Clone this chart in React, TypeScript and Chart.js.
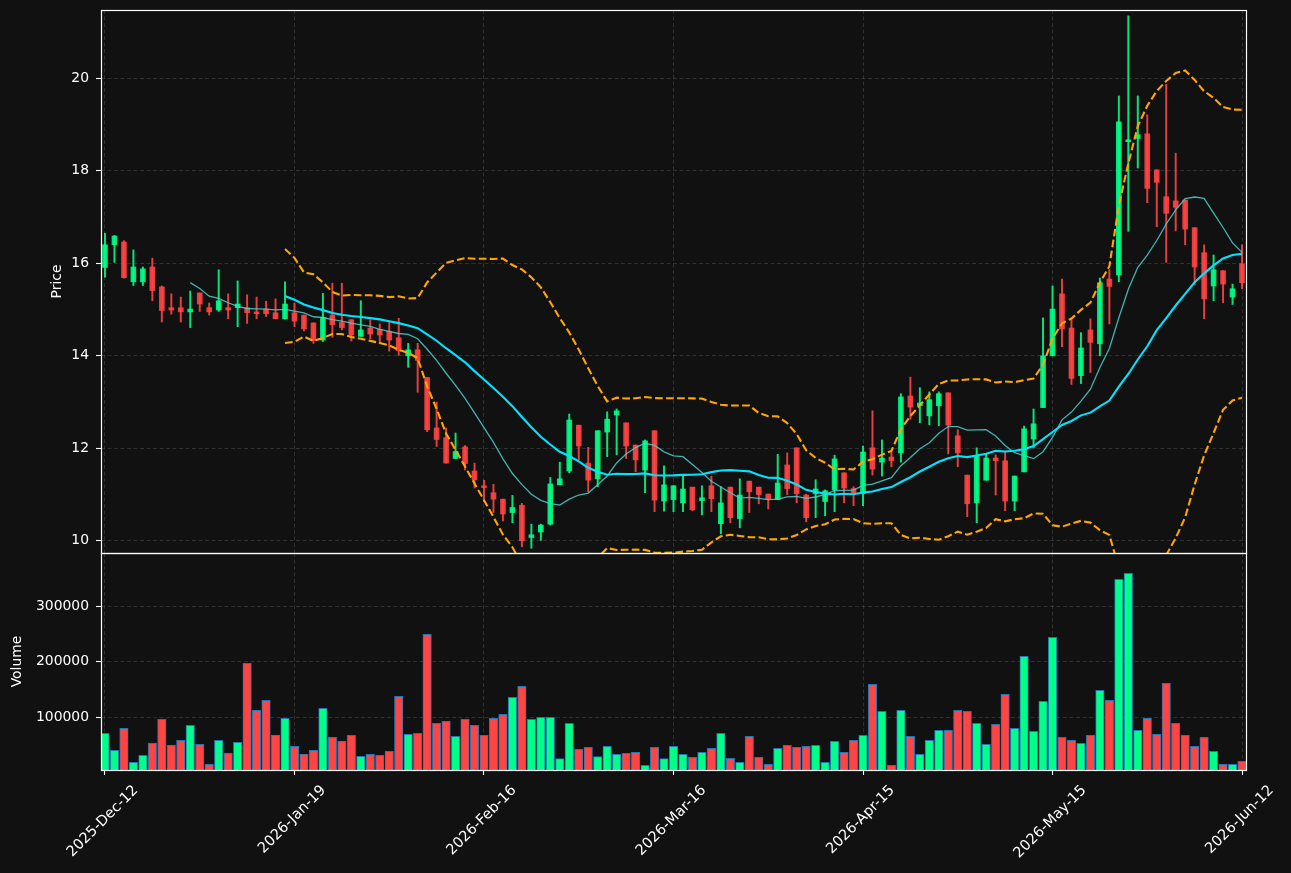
import React, { useEffect, useRef } from 'react';
import { Chart, registerables } from 'chart.js';

Chart.register(...registerables);

// ---------------- data ----------------
const opens = [
  15.91, 16.40, 16.46, 15.60, 15.60, 15.92, 15.49, 15.04, 15.04, 14.95,
  15.36, 15.04, 14.99, 15.04, 15.04, 15.04, 14.95, 15.01, 14.93, 14.80,
  14.93, 14.88, 14.71, 14.34, 14.88, 14.72, 14.78, 14.42, 14.60, 14.57,
  14.53, 14.39, 14.00, 14.13, 13.53, 12.44, 12.23, 11.78, 12.03, 11.51,
  11.19, 11.04, 10.90, 10.61, 10.77, 10.07, 10.19, 10.36, 11.21, 11.51,
  12.50, 11.68, 11.34, 12.35, 12.72, 12.55, 12.07, 11.53, 12.38, 10.86,
  10.89, 10.82, 11.16, 10.87, 11.19, 10.37, 11.16, 10.48, 11.29, 11.16,
  11.01, 10.89, 11.64, 12.01, 10.99, 11.02, 10.85, 11.10, 11.47, 11.13,
  11.02, 12.01, 11.70, 11.81, 11.90, 13.13, 12.92, 12.70, 12.92, 13.20,
  12.27, 11.42, 10.82, 11.31, 11.79, 11.73, 10.86, 11.49, 12.20, 12.88,
  14.00, 15.34, 14.60, 13.57, 14.56, 14.26, 15.66, 15.75, 18.63, 18.70,
  18.80, 18.02, 17.44, 17.35, 17.37, 16.77, 16.23, 15.51, 15.84, 15.27,
  15.99,
];
const highs = [
  16.65, 16.60, 16.49, 16.29, 15.92, 16.11, 15.51, 15.34, 15.27, 15.40,
  15.36, 15.14, 15.86, 15.34, 15.62, 15.32, 15.27, 15.18, 15.23, 15.60,
  15.14, 14.88, 14.71, 15.35, 15.57, 15.57, 14.78, 15.19, 14.78, 14.69,
  14.75, 14.81, 14.27, 14.27, 13.53, 13.00, 12.44, 12.33, 12.06, 11.68,
  11.31, 11.22, 10.90, 10.98, 10.81, 10.36, 10.36, 11.37, 11.70, 12.74,
  12.50, 12.02, 12.38, 12.79, 12.85, 12.55, 12.07, 12.18, 12.38, 11.62,
  11.19, 11.42, 11.16, 11.19, 11.40, 11.17, 11.16, 11.34, 11.29, 11.16,
  11.01, 11.87, 11.90, 12.01, 11.01, 11.32, 11.10, 11.85, 11.47, 11.17,
  12.05, 12.81, 12.18, 11.92, 13.18, 13.54, 13.31, 13.22, 13.22, 13.20,
  12.40, 11.42, 12.01, 11.88, 11.86, 11.92, 11.40, 12.48, 12.85, 14.82,
  15.51, 15.66, 14.78, 14.50, 14.80, 15.68, 15.86, 19.62, 21.35, 19.62,
  19.21, 18.02, 19.87, 18.38, 17.37, 16.77, 16.40, 16.18, 15.84, 15.55,
  16.40,
];
const lows = [
  15.70, 16.02, 15.68, 15.52, 15.52, 15.19, 14.73, 14.90, 14.73, 14.61,
  14.96, 14.88, 14.96, 14.80, 14.63, 14.70, 14.80, 14.85, 14.80, 14.80,
  14.63, 14.54, 14.27, 14.31, 14.40, 14.56, 14.32, 14.42, 14.37, 14.26,
  14.10, 14.01, 13.75, 13.21, 12.36, 12.04, 11.68, 11.78, 11.53, 11.14,
  10.85, 10.61, 10.43, 10.39, 9.87, 9.84, 10.01, 10.34, 11.21, 11.47,
  11.75, 11.06, 11.17, 11.82, 11.86, 11.78, 11.49, 11.04, 10.63, 10.64,
  10.63, 10.63, 10.65, 10.56, 10.63, 10.15, 10.39, 10.28, 10.61, 10.80,
  10.69, 10.89, 11.00, 10.82, 10.41, 10.50, 10.54, 10.63, 10.82, 10.76,
  10.76, 11.42, 11.40, 11.60, 11.70, 12.63, 12.55, 12.51, 12.49, 11.88,
  11.60, 10.52, 10.39, 11.31, 10.99, 10.65, 10.65, 11.49, 12.01, 12.88,
  14.00, 14.20, 13.38, 13.40, 13.64, 14.00, 14.69, 15.60, 16.69, 18.06,
  17.31, 16.79, 16.02, 16.70, 16.40, 15.53, 14.80, 15.19, 15.15, 15.11,
  15.45,
];
const closes = [
  16.40, 16.59, 15.69, 15.92, 15.88, 15.41, 14.98, 14.99, 14.95, 15.01,
  15.12, 14.95, 15.19, 14.99, 15.12, 14.93, 14.91, 14.91, 14.80, 15.12,
  14.75, 14.58, 14.33, 14.83, 14.67, 14.61, 14.45, 14.56, 14.47, 14.45,
  14.34, 14.11, 14.13, 13.90, 12.40, 12.19, 11.68, 11.93, 11.67, 11.32,
  11.15, 10.90, 10.58, 10.72, 10.00, 10.13, 10.34, 11.23, 11.34, 12.61,
  12.05, 11.31, 12.38, 12.63, 12.81, 12.05, 11.75, 12.16, 10.88, 11.21,
  11.19, 11.12, 10.67, 10.93, 10.91, 10.82, 10.50, 10.99, 11.06, 11.00,
  10.90, 11.25, 11.13, 11.02, 10.50, 11.12, 11.08, 11.77, 11.14, 11.04,
  11.92, 11.55, 11.79, 11.73, 13.11, 12.89, 12.98, 13.05, 13.18, 12.50,
  11.90, 10.80, 11.83, 11.79, 11.73, 10.86, 11.40, 12.42, 12.53, 14.00,
  15.01, 14.58, 13.51, 14.17, 14.29, 15.58, 15.50, 19.06, 18.67, 18.78,
  17.62, 17.75, 17.08, 17.21, 16.74, 15.92, 15.23, 15.86, 15.55, 15.45,
  15.58,
];
const volumes = [
  70500, 39800, 79600, 18200, 30800, 53000, 95800, 49400, 57900, 85000,
  50700, 14500, 57900, 35000, 54200, 197000, 112100, 130200, 67500, 97600,
  47000, 33200, 39800, 115700, 63300, 56600, 67000, 29000, 32600, 30800,
  38000, 137400, 68700, 70500, 249400, 88600, 92200, 65100, 95800, 85000,
  67000, 97600, 104900, 135600, 155500, 95800, 99500, 99500, 24700, 88600,
  41600, 45300, 28300, 47000, 32600, 34400, 36200, 12700, 45300, 24700,
  47000, 32600, 27200, 36200, 43400, 70500, 25300, 18200, 65100, 27200,
  14500, 43400, 48900, 45300, 47000, 48900, 18200, 56000, 36200, 57900,
  67000, 159000, 110300, 12700, 112100, 65100, 32600, 57900, 76000, 76000,
  112100, 110300, 88600, 50700, 86800, 141000, 79600, 209700, 74200, 128400,
  244000, 63300, 57900, 52500, 67000, 148200, 130200, 348700, 359600, 76000,
  97600, 68700, 160900, 88600, 67000, 47000, 63300, 38000, 14500, 14500,
  20000,
];
const tickIndex = [0, 20, 40, 60, 80, 100, 120];
const tickLabels = ['2025-Dec-12', '2026-Jan-19', '2026-Feb-16', '2026-Mar-16', '2026-Apr-15', '2026-May-15', '2026-Jun-12'];
const priceTicks = [10, 12, 14, 16, 18, 20];
const volumeTicks = [100000, 200000, 300000];
const shortWindow = 10;
const longWindow = 20;
const bandWidth = 2;

// ---------------- layout & style ----------------
const W = 1291;
const H = 873;
const BG = '#111111';
const FONT = "'DejaVu Sans', 'Liberation Sans', sans-serif";
const FS = 13.9;
const XFS = 14.5;
const AXIS_W = 101;
const RIGHT_PAD = 45;
const PRICE_CANVAS_H = 560;
const VOL_CANVAS_TOP = 546;
const VOL_CANVAS_H = H - VOL_CANVAS_TOP;
const X_MIN = -0.42;
const X_MAX = 120.42;
const P_MIN = 9.736;
const P_MAX = 21.477;
const V_MIN = 4245;
const V_MAX = 396300;

const UP_CANDLE = 'rgba(0,255,136,0.9)';
const DOWN_CANDLE = 'rgba(255,68,68,0.9)';
const UP_VOL = '#00ff88';
const DOWN_VOL = '#ff4444';
const GRID = 'rgba(128,128,128,0.35)';

const idx = closes.map((_, i) => i);
const isUp = idx.map((i) => closes[i] >= opens[i]);

function rollingMean(vals: number[], n: number) {
  const out: { x: number; y: number }[] = [];
  for (let i = n - 1; i < vals.length; i++) {
    let s = 0;
    for (let k = i - n + 1; k <= i; k++) s += vals[k];
    out.push({ x: i, y: s / n });
  }
  return out;
}
function rollingBand(vals: number[], n: number, mult: number, sign: number) {
  const out: { x: number; y: number }[] = [];
  for (let i = n - 1; i < vals.length; i++) {
    let s = 0;
    for (let k = i - n + 1; k <= i; k++) s += vals[k];
    const m = s / n;
    let v = 0;
    for (let k = i - n + 1; k <= i; k++) v += (vals[k] - m) * (vals[k] - m);
    out.push({ x: i, y: m + sign * mult * Math.sqrt(v / n) });
  }
  return out;
}

const framePlugin = {
  id: 'frame',
  afterDatasetsDraw(chart: any) {
    const { ctx, chartArea: a } = chart;
    ctx.save();
    ctx.strokeStyle = '#ffffff';
    ctx.lineWidth = 1.2;
    const l = Math.round(a.left) + 0.5;
    const r = Math.round(a.right) + 0.5;
    const t = Math.round(a.top) + 0.5;
    const b = Math.round(a.bottom) + 0.5;
    ctx.strokeRect(l, t, r - l, b - t);
    ctx.restore();
  },
};

const xLabelPlugin = {
  id: 'xLabels',
  afterDraw(chart: any) {
    const { ctx, chartArea } = chart;
    const xs = chart.scales.x;
    ctx.save();
    ctx.font = `${XFS}px ${FONT}`;
    ctx.fillStyle = '#ffffff';
    ctx.textAlign = 'center';
    ctx.textBaseline = 'middle';
    const top = chartArea.bottom + 5 + 4.9;
    tickIndex.forEach((v, k) => {
      const label = tickLabels[k];
      const px = xs.getPixelForValue(v);
      const L = ctx.measureText(label).width;
      const hh = XFS * 1.164;
      const half = (L + hh) / (2 * Math.SQRT2);
      ctx.save();
      ctx.translate(px - 2.3, top + half + 2.3);
      ctx.rotate(-Math.PI / 4);
      ctx.fillText(label, 0, 0);
      ctx.restore();
    });
    ctx.restore();
  },
};

function yAxis(min: number, max: number, ticks: number[], title: string, titlePad: number) {
  return {
    type: 'linear' as const,
    position: 'left' as const,
    min,
    max,
    afterBuildTicks: (s: any) => {
      s.ticks = ticks.map((v) => ({ value: v }));
    },
    afterFit: (s: any) => {
      s.width = AXIS_W;
      s.paddingTop = 0;
      s.paddingBottom = 0;
      s.paddingLeft = 0;
      s.paddingRight = 0;
    },
    ticks: {
      color: '#ffffff',
      font: { family: FONT, size: FS },
      padding: 7,
      autoSkip: false,
      callback: (v: any) => String(v),
    },
    grid: {
      color: GRID,
      lineWidth: 0.8,
      drawTicks: true,
      tickLength: 5,
      tickColor: '#ffffff',
      tickWidth: 1.1,
      tickBorderDash: [],
    },
    border: { display: false, dash: [4, 2.5] },
    title: {
      display: true,
      text: title,
      color: '#ffffff',
      font: { family: FONT, size: FS },
      padding: { top: titlePad, bottom: 0 },
    },
  };
}

function xAxis(height: number, drawTicks: boolean) {
  return {
    type: 'linear' as const,
    position: 'bottom' as const,
    min: X_MIN,
    max: X_MAX,
    offset: false,
    afterBuildTicks: (s: any) => {
      s.ticks = tickIndex.map((v) => ({ value: v }));
    },
    afterFit: (s: any) => {
      s.height = height;
      s.paddingTop = 0;
      s.paddingBottom = 0;
      s.paddingLeft = 0;
      s.paddingRight = 0;
    },
    ticks: { display: false, autoSkip: false },
    grid: {
      color: GRID,
      lineWidth: 0.8,
      offset: false,
      drawTicks,
      tickLength: 5,
      tickColor: '#ffffff',
      tickWidth: 1.1,
      tickBorderDash: [],
    },
    border: { display: false, dash: [4, 2.5] },
  };
}

export default function App() {
  const priceRef = useRef<HTMLCanvasElement>(null);
  const volRef = useRef<HTMLCanvasElement>(null);

  useEffect(() => {
    document.body.style.margin = '0';
    document.body.style.background = BG;
    Chart.defaults.font.family = FONT;
    Chart.defaults.font.size = FS;
    Chart.defaults.color = '#ffffff';

    const candleColors = idx.map((i) => (isUp[i] ? UP_CANDLE : DOWN_CANDLE));
    const volColors = idx.map((i) => (isUp[i] ? UP_VOL : DOWN_VOL));

    const priceChart = new Chart(priceRef.current as HTMLCanvasElement, {
      type: 'bar',
      data: {
        datasets: [
          {
            type: 'line',
            label: 'MA20',
            data: rollingMean(closes, longWindow),
            borderColor: '#00e5ff',
            borderWidth: 2.1,
            pointRadius: 0,
            tension: 0,
            clip: 0,
          },
          {
            type: 'line',
            label: 'MA10',
            data: rollingMean(closes, shortWindow),
            borderColor: 'rgba(72,209,204,0.85)',
            borderWidth: 1.3,
            pointRadius: 0,
            tension: 0,
            clip: 0,
          },
          {
            type: 'line',
            label: 'Upper',
            data: rollingBand(closes, longWindow, bandWidth, 1),
            borderColor: '#ffa500',
            borderWidth: 2.1,
            borderDash: [7.7, 3.3],
            pointRadius: 0,
            tension: 0,
            clip: 0,
          },
          {
            type: 'line',
            label: 'Lower',
            data: rollingBand(closes, longWindow, bandWidth, -1),
            borderColor: '#ffa500',
            borderWidth: 2.1,
            borderDash: [7.7, 3.3],
            pointRadius: 0,
            tension: 0,
            clip: 0,
          },
          {
            type: 'bar',
            label: 'Body',
            data: idx.map((i) => ({ x: i, y: [Math.min(opens[i], closes[i]), Math.max(opens[i], closes[i])] })),
            backgroundColor: candleColors,
            borderWidth: 0,
            barThickness: 5,
            grouped: false,
            minBarLength: 1,
            clip: 0,
          },
          {
            type: 'bar',
            label: 'Wick',
            data: idx.map((i) => ({ x: i, y: [lows[i], highs[i]] })),
            backgroundColor: candleColors,
            borderWidth: 0,
            barThickness: 1.3,
            grouped: false,
            clip: 0,
          },
        ] as any,
      },
      options: {
        animation: false,
        responsive: false,
        devicePixelRatio: 1,
        events: [],
        layout: { autoPadding: false, padding: { left: 0, right: RIGHT_PAD, top: 10, bottom: PRICE_CANVAS_H - 553 } },
        plugins: { legend: { display: false }, tooltip: { enabled: false } },
        scales: {
          x: xAxis(0, false),
          y: yAxis(P_MIN, P_MAX, priceTicks, 'Price', 49.2),
        } as any,
      },
      plugins: [framePlugin],
    });

    const volChart = new Chart(volRef.current as HTMLCanvasElement, {
      type: 'bar',
      data: {
        datasets: [
          {
            type: 'bar',
            label: 'Volume',
            data: idx.map((i) => ({ x: i, y: volumes[i] })),
            backgroundColor: volColors,
            borderColor: '#1f77b4',
            borderWidth: 1,
            barThickness: 8.5,
            grouped: false,
            clip: 0,
          },
        ] as any,
      },
      options: {
        animation: false,
        responsive: false,
        devicePixelRatio: 1,
        events: [],
        layout: { autoPadding: false, padding: { left: 0, right: RIGHT_PAD, top: 553 - VOL_CANVAS_TOP, bottom: 0 } },
        plugins: { legend: { display: false }, tooltip: { enabled: false } },
        scales: {
          x: xAxis(VOL_CANVAS_TOP + VOL_CANVAS_H - 770, true),
          y: yAxis(V_MIN, V_MAX, volumeTicks, 'Volume', 9.2),
        } as any,
      },
      plugins: [framePlugin, xLabelPlugin],
    });

    return () => {
      priceChart.destroy();
      volChart.destroy();
    };
  }, []);

  return (
    <div style={{ position: 'relative', width: W, height: H, background: BG, overflow: 'hidden' }}>
      <canvas
        ref={priceRef}
        width={W}
        height={PRICE_CANVAS_H}
        style={{ position: 'absolute', left: 0, top: 0, width: W, height: PRICE_CANVAS_H }}
      />
      <canvas
        ref={volRef}
        width={W}
        height={VOL_CANVAS_H}
        style={{ position: 'absolute', left: 0, top: VOL_CANVAS_TOP, width: W, height: VOL_CANVAS_H }}
      />
    </div>
  );
}
